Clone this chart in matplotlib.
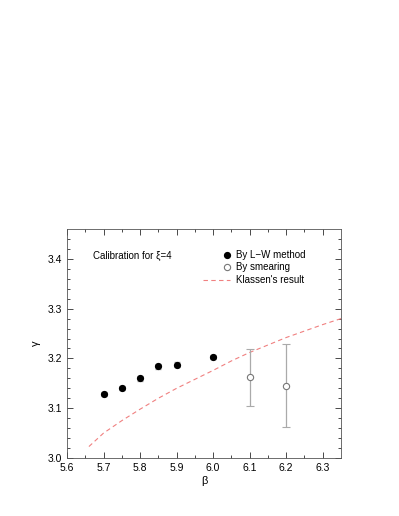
import matplotlib
matplotlib.use("Agg")
import matplotlib.pyplot as plt

plt.rcParams["font.family"] = ["Liberation Sans", "DejaVu Sans"]

# By L-W method
lw_beta = [5.70, 5.75, 5.80, 5.85, 5.90, 6.00]
lw_gamma = [3.128, 3.140, 3.160, 3.184, 3.187, 3.202]
lw_err = [0.004, 0.004, 0.005, 0.005, 0.005, 0.004]

# By smearing
sm_beta = [6.10, 6.20]
sm_gamma = [3.162, 3.145]
sm_err = [0.057, 0.083]

# Klassen's result
kl_beta = [5.66, 5.70, 5.75, 5.80, 5.85, 5.90, 5.95, 6.00, 6.05, 6.10, 6.15, 6.20, 6.25, 6.30, 6.35]
kl_gamma = [3.023, 3.050, 3.075, 3.098, 3.120, 3.140, 3.158, 3.176, 3.195, 3.212, 3.227, 3.242, 3.255, 3.268, 3.280]

legend_labels = ["By L\u2212W method", "By smearing", "Klassen's result"]

RED = "#f08080"

fig = plt.figure(figsize=(3.99, 5.16), dpi=100)
ax = fig.add_axes([67 / 399, 1 - 458 / 516, (341 - 67) / 399, (458 - 229) / 516])

ax.plot(kl_beta, kl_gamma, linestyle=(0, (4, 3)), color=RED, lw=0.8)
ax.errorbar(lw_beta, lw_gamma, yerr=lw_err, fmt="o", color="black", ms=4.2,
            ecolor="#aaaaaa", elinewidth=0.8, capsize=2)
ax.errorbar(sm_beta, sm_gamma, yerr=sm_err, fmt="o", mfc="white", mec="#777777",
            ms=4.5, mew=0.8, ecolor="#aaaaaa", elinewidth=0.9, capsize=3)

ax.set_xlim(5.6, 6.35)
ax.set_ylim(3.0, 3.46)
ax.set_xticks([5.6, 5.7, 5.8, 5.9, 6.0, 6.1, 6.2, 6.3])
ax.set_xticks([5.65, 5.75, 5.85, 5.95, 6.05, 6.15, 6.25], minor=True)
ax.set_yticks([3.0, 3.1, 3.2, 3.3, 3.4])
ax.set_yticks([3.02, 3.04, 3.06, 3.08, 3.12, 3.14, 3.16, 3.18, 3.22, 3.24,
               3.26, 3.28, 3.32, 3.34, 3.36, 3.38, 3.42, 3.44], minor=True)
ax.xaxis.set_major_formatter(matplotlib.ticker.FormatStrFormatter("%.1f"))
ax.yaxis.set_major_formatter(matplotlib.ticker.FormatStrFormatter("%.1f"))
ax.tick_params(which="both", direction="in", top=True, right=True,
               labelsize=7.5, width=0.5)
ax.tick_params(which="major", length=4)
ax.tick_params(which="minor", length=2)
for s in ax.spines.values():
    s.set_linewidth(0.6)
    s.set_color("#555555")

ax.set_xlabel("β", fontsize=8, labelpad=2)
ax.set_ylabel("γ", fontsize=8, labelpad=5)

ax.text(5.672, 3.406, "Calibration for ξ=4", fontsize=7, va="center")

# legend drawn by hand in axes coordinates
tr = ax.transAxes
rows_y = [0.886, 0.833, 0.777]
ax.plot([0.584], [rows_y[0]], "o", color="black", ms=4.2, transform=tr)
ax.plot([0.584], [rows_y[1]], "o", mfc="white", mec="#777777", ms=4.5, mew=0.8,
        transform=tr)
ax.plot([0.496, 0.595], [rows_y[2], rows_y[2]], color=RED, lw=0.8,
        ls=(0, (4, 3)), transform=tr)
for y, lab in zip(rows_y, legend_labels):
    ax.text(0.617, y, lab, fontsize=7, va="center", transform=tr)

fig.savefig("out.png", dpi=100)
